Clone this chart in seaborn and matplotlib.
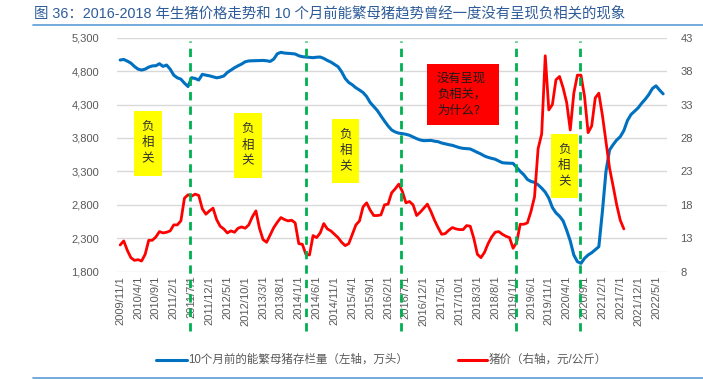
import matplotlib
matplotlib.use("Agg")
import matplotlib.pyplot as plt
import seaborn as sns
import pandas as pd
from matplotlib.lines import Line2D
from matplotlib.patches import Rectangle
from matplotlib.ticker import FuncFormatter

# monthly index 0 = 2009/11
sow_stock = [
    4966, 4975, 4950, 4920, 4870, 4830, 4816, 4830, 4860, 4878,
    4881, 4911, 4871, 4891, 4830, 4740, 4700, 4680, 4620, 4570,
    4702, 4690, 4667, 4752, 4740, 4730, 4715, 4700, 4710, 4727,
    4780, 4815, 4850, 4880, 4906, 4940, 4952, 4955, 4956, 4958,
    4960, 4955, 4945, 4980, 5060, 5081, 5070, 5066, 5062, 5056,
    5030, 5016, 5011, 5005, 5001, 5008, 5011, 4990, 4960, 4935,
    4900, 4866, 4790, 4690, 4630, 4595, 4550, 4517, 4480, 4420,
    4330, 4270, 4210, 4130, 4053, 3980, 3920, 3890, 3872, 3865,
    3855, 3840, 3815, 3790, 3770, 3760, 3762, 3764, 3752, 3745,
    3725, 3712, 3700, 3690, 3672, 3655, 3645, 3640, 3636, 3610,
    3585, 3560, 3530, 3510, 3495, 3482, 3455, 3430, 3425, 3422,
    3420, 3360, 3300, 3250, 3180, 3150, 3136, 3100, 3050, 2990,
    2900, 2760, 2680, 2630, 2560, 2420, 2260, 2050, 1950, 1925,
    2000, 2050, 2084, 2130, 2174, 2700, 3300, 3620, 3700, 3770,
    3819, 3910, 4060, 4150, 4200, 4250, 4320, 4380, 4450, 4540,
    4580, 4517, 4460,
]

hog_price = [
    12.0, 12.6, 11.2, 10.1, 9.7, 9.8, 9.6, 10.6, 12.7, 12.7,
    13.2, 14.0, 13.8, 13.9, 14.1, 15.0, 15.0, 15.6, 19.0, 19.5,
    19.3, 19.6, 19.4, 17.4, 16.6, 17.1, 17.5, 15.8, 14.8, 14.4,
    13.8, 14.1, 13.9, 14.5, 14.7, 14.5, 15.0, 16.2, 17.1, 14.5,
    12.8, 12.4, 13.5, 14.6, 15.4, 16.1, 15.8, 15.6, 15.7, 15.3,
    12.2, 12.1, 10.6, 10.5, 13.4, 13.1, 13.8, 15.2, 14.4, 14.1,
    13.6, 13.1, 12.4, 11.9, 12.2, 13.6, 15.0, 15.6, 17.7, 18.3,
    17.2, 16.4, 16.4, 16.5, 18.0, 18.1, 19.8, 20.4, 21.1, 20.0,
    18.3, 18.5, 18.0, 16.4, 16.9, 17.5, 18.1, 17.0, 15.7, 14.6,
    13.6, 13.7, 14.2, 14.6, 14.4, 14.3, 14.3, 14.9, 14.8, 13.0,
    10.6, 10.1, 10.9, 12.2, 13.2, 13.9, 14.0, 13.6, 13.3, 13.1,
    11.5, 12.4, 15.1, 15.1, 15.3, 17.0, 19.2, 26.4, 28.6, 40.3,
    32.2, 33.0, 36.7, 37.2, 35.5, 33.3, 29.2, 34.7, 37.4, 37.4,
    34.2, 28.8, 29.8, 34.0, 34.7, 31.4, 27.4, 23.5, 20.8, 18.0,
    15.7, 14.4,
]

tick_labels = [
    "2009/11/1", "2010/4/1", "2010/9/1", "2011/2/1", "2011/7/1", "2011/12/1",
    "2012/5/1", "2012/10/1", "2013/3/1", "2013/8/1", "2014/1/1", "2014/6/1",
    "2014/11/1", "2015/4/1", "2015/9/1", "2016/2/1", "2016/7/1", "2016/12/1",
    "2017/5/1", "2017/10/1", "2018/3/1", "2018/8/1", "2019/1/1", "2019/6/1",
    "2019/11/1", "2020/4/1", "2020/9/1", "2021/2/1", "2021/7/1", "2021/12/1",
    "2022/5/1",
]

# month index of the green dashed separators
break_months = [19.6, 51.9, 78.6, 110.8, 128.8]

title = "图 36：2016-2018 年生猪价格走势和 10 个月前能繁母猪趋势曾经一度没有呈现负相关的现象"
label_sow = "10个月前的能繁母猪存栏量（左轴，万头）"
label_price = "猪价（右轴，元/公斤）"

sns.set_theme(style="white")
plt.rcParams["font.family"] = ["Liberation Sans", "Noto Sans CJK SC", "DejaVu Sans"]

W, H = 703, 379


def fx(x):
    return x / W


def fy(y):
    return 1 - y / H


fig = plt.figure(figsize=(W / 100, H / 100), dpi=100)
ax = fig.add_axes([fx(117.3), fy(271.7), (666.7 - 117.3) / W, 234 / H])
ax2 = ax.twinx()

df_sow = pd.DataFrame({"m": range(len(sow_stock)), "v": sow_stock})
df_price = pd.DataFrame({"m": range(len(hog_price)), "v": hog_price})

sns.lineplot(data=df_sow, x="m", y="v", ax=ax, color="#0070C0", linewidth=2.2)
sns.lineplot(data=df_price, x="m", y="v", ax=ax2, color="#FF0000", linewidth=2.0)

ax.set_xlim(-0.8, 153)
ax.set_ylim(1800, 5300)
ax.set_yticks(range(1800, 5301, 500))
ax.yaxis.set_major_formatter(FuncFormatter(lambda v, p: f"{int(v):,}"))
ax2.set_ylim(8, 43)
ax2.set_yticks(range(8, 44, 5))

ax.set_xticks(range(0, 151, 5))
ax.set_xticklabels(tick_labels, rotation=90, va="top", ha="center")

for a in (ax, ax2):
    a.set_xlabel("")
    a.set_ylabel("")
    for s in a.spines.values():
        s.set_visible(False)
    a.tick_params(length=0, labelsize=8, labelcolor="#595959")
ax.tick_params(axis="y", pad=13)
ax.tick_params(axis="x", pad=3)
ax2.tick_params(axis="y", pad=10)

ax.grid(axis="y", color="#D9D9D9", linewidth=1)
ax.grid(axis="x", visible=False)
ax2.grid(False)
ax.set_axisbelow(True)

for bm in break_months:
    ax2.axvline(bm, ymin=-0.255, ymax=0.986, color="#00B050", linewidth=2,
                linestyle=(0, (3, 2.2)), clip_on=False, zorder=5)

# title and frame lines
fig.text(fx(34), fy(13), title, color="#2E5C9A", fontsize=10.4, va="center", ha="left")
fig.add_artist(Line2D([fx(33), 1], [fy(24.5)] * 2, color="#5B9BD5", linewidth=1.2))
fig.add_artist(Line2D([fx(33), 1], [fy(377.5)] * 2, color="#5B9BD5", linewidth=1.2))

# annotation boxes
yellow_boxes = [(134.3, 111, 161.7, 175.7), (234.3, 113.3, 261.7, 177.7),
                (332, 119, 359.3, 183), (551, 134, 577.7, 198.3)]
for x0, y0, x1, y1 in yellow_boxes:
    fig.add_artist(Rectangle((fx(x0), fy(y1)), (x1 - x0) / W, (y1 - y0) / H,
                             transform=fig.transFigure, facecolor="#FFFF00",
                             edgecolor="none", zorder=6))
    fig.text(fx((x0 + x1) / 2), fy((y0 + y1) / 2), "负\n相\n关", fontsize=9,
             color="#333333", ha="center", va="center", linespacing=1.45, zorder=7)

fig.add_artist(Rectangle((fx(426.7), fy(125)), (499.3 - 426.7) / W, 61 / H,
                         transform=fig.transFigure, facecolor="#FF0000",
                         edgecolor="none", zorder=6))
fig.text(fx(437), fy(94.5), "没有呈现\n负相关，\n为什么？", fontsize=8.8,
         color="#1A1A1A", ha="left", va="center", linespacing=1.45, zorder=7)

# legend
fig.add_artist(Line2D([fx(156), fx(187)], [fy(360)] * 2, color="#0070C0", linewidth=2.2))
fig.text(fx(188.5), fy(360), label_sow, fontsize=8.3, color="#595959", va="center", ha="left")
fig.add_artist(Line2D([fx(458), fx(487)], [fy(360)] * 2, color="#FF0000", linewidth=2.2))
fig.text(fx(489), fy(360), label_price, fontsize=8.3, color="#595959", va="center", ha="left")

fig.savefig("out.png", dpi=100)
plt.close(fig)
